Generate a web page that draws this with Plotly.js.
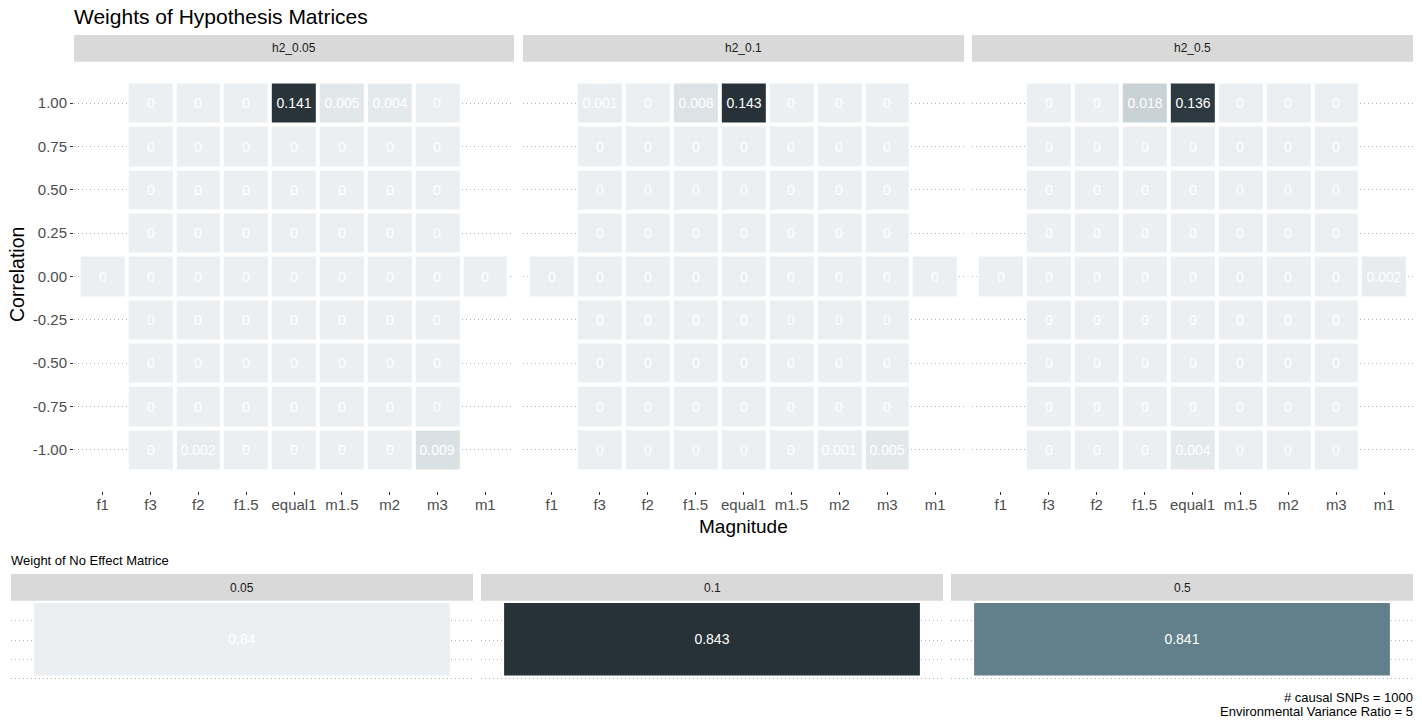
<!DOCTYPE html>
<html><head><meta charset="utf-8">
<script src="https://cdn.plot.ly/plotly-3.0.1.min.js"></script>
<style>html,body{margin:0;padding:0;background:#fff}#chart{width:1422px;height:726px}</style>
</head><body><div id="chart"></div>
<script>
// ---------- data ----------
const magnitudes = ["f1","f3","f2","f1.5","equal1","m1.5","m2","m3","m1"];
const correlations = [-1,-0.75,-0.5,-0.25,0,0.25,0.5,0.75,1];
const correlationLabels = ["-1.00","-0.75","-0.50","-0.25","0.00","0.25","0.50","0.75","1.00"];
const hypothesisPanels = ["h2_0.05","h2_0.1","h2_0.5"];
// rows: correlation -1 .. 1 ; columns: magnitudes ; null = no tile
const weightsH2_005 = [
  [null,0,0.002,0,0,0,0,0.009,null],
  [null,0,0,0,0,0,0,0,null],
  [null,0,0,0,0,0,0,0,null],
  [null,0,0,0,0,0,0,0,null],
  [0,0,0,0,0,0,0,0,0],
  [null,0,0,0,0,0,0,0,null],
  [null,0,0,0,0,0,0,0,null],
  [null,0,0,0,0,0,0,0,null],
  [null,0,0,0,0.141,0.005,0.004,0,null]
];
const weightsH2_01 = [
  [null,0,0,0,0,0,0.001,0.005,null],
  [null,0,0,0,0,0,0,0,null],
  [null,0,0,0,0,0,0,0,null],
  [null,0,0,0,0,0,0,0,null],
  [0,0,0,0,0,0,0,0,0],
  [null,0,0,0,0,0,0,0,null],
  [null,0,0,0,0,0,0,0,null],
  [null,0,0,0,0,0,0,0,null],
  [null,0.001,0,0.008,0.143,0,0,0,null]
];
const weightsH2_05 = [
  [null,0,0,0,0.004,0,0,0,null],
  [null,0,0,0,0,0,0,0,null],
  [null,0,0,0,0,0,0,0,null],
  [null,0,0,0,0,0,0,0,null],
  [0,0,0,0,0,0,0,0,0.002],
  [null,0,0,0,0,0,0,0,null],
  [null,0,0,0,0,0,0,0,null],
  [null,0,0,0,0,0,0,0,null],
  [null,0,0,0.018,0.136,0,0,0,null]
];
const noEffectPanels = ["0.05","0.1","0.5"];
const noEffectWeights = [0.84, 0.843, 0.84148];

// ---------- style ----------
const W = 1422, H = 726;
const FONT = "Liberation Sans, Arial, Helvetica, sans-serif";
const palette = [[0,"#ECEFF1"],[0.5,"#607D8B"],[1,"#263238"]];
const gridStyle = {showgrid:true, gridcolor:"#b0b0b0", gridwidth:1, griddash:"1px,3px"};
const px = p => p / W;
const py = p => 1 - p / H;
const fmt = v => String(Math.round(v * 1000) / 1000);

const weightSets = [weightsH2_005, weightsH2_01, weightsH2_05];
const topMax = Math.max(...weightSets.flat(2).filter(v => v !== null));
const topX = [[74,514],[523,964],[972,1413]];
const botX = [[11,473],[481,943],[951,1413]];

const traces = [];
const layout = {
  width: W, height: H, margin:{l:0,r:0,t:0,b:0},
  paper_bgcolor:"#fff", plot_bgcolor:"#fff",
  font:{family:FONT, color:"#000"},
  showlegend:false, shapes:[], annotations:[]
};

weightSets.forEach((w, i) => {
  const sfx = i === 0 ? "" : String(i + 1);
  const under = w.map(r => r.map(v => v === null ? null : 1));
  traces.push({type:"heatmap", x:magnitudes, y:correlations, z:under, xaxis:"x"+sfx, yaxis:"y"+sfx,
    colorscale:[[0,"#ffffff"],[1,"#ffffff"]], showscale:false, hoverinfo:"skip", connectgaps:false});
  traces.push({type:"heatmap", x:magnitudes, y:correlations, z:w, xaxis:"x"+sfx, yaxis:"y"+sfx,
    zmin:0, zmax:topMax, colorscale:palette, showscale:false, xgap:4, ygap:4, connectgaps:false,
    text:w.map(r => r.map(v => v === null ? "" : fmt(v))), texttemplate:"%{text}",
    textfont:{family:FONT, size:14, color:"#ffffff"}, hoverinfo:"x+y+z"});
  layout["xaxis"+sfx] = {domain:[px(topX[i][0]), px(topX[i][1])], type:"category",
    categoryorder:"array", categoryarray:magnitudes, range:[-0.6, 8.6],
    showgrid:false, zeroline:false, showline:false, ticks:"outside", ticklen:3, tickwidth:1,
    tickcolor:"#333333", ticklabelstandoff:-3,
    tickfont:{family:FONT, size:15, color:"#4d4d4d"}, fixedrange:true, anchor:"y"+sfx};
  layout["yaxis"+sfx] = Object.assign({domain:[py(491), py(62)], range:[-1.2375, 1.2375],
    tickvals:correlations, ticktext:correlationLabels, zeroline:false, showline:false,
    ticks: i === 0 ? "outside" : "", ticklen:3, tickwidth:1, tickcolor:"#333333",
    showticklabels: i === 0, tickfont:{family:FONT, size:15, color:"#4d4d4d"}, fixedrange:true,
    anchor:"x"+sfx}, gridStyle);
  layout.shapes.push({type:"rect", xref:"paper", yref:"paper", x0:px(topX[i][0]), x1:px(topX[i][1]),
    y0:py(61.7), y1:py(35), fillcolor:"#d9d9d9", line:{width:0}, layer:"below"});
  layout.annotations.push({xref:"paper", yref:"paper", x:px((topX[i][0]+topX[i][1])/2), y:py(48.5),
    text:hypothesisPanels[i], showarrow:false, xanchor:"center", yanchor:"middle",
    font:{family:FONT, size:12, color:"#1a1a1a"}});
});

const botMin = Math.min(...noEffectWeights), botMax = Math.max(...noEffectWeights);
noEffectWeights.forEach((v, i) => {
  const n = i + 4, sfx = String(n);
  traces.push({type:"bar", x:[noEffectPanels[i]], y:[3.79], base:[0.14], width:[0.9],
    xaxis:"x"+sfx, yaxis:"y"+sfx,
    marker:{color:[v], colorscale:palette, cmin:botMin, cmax:botMax, showscale:false, line:{width:0}},
    text:[fmt(v)], textposition:"inside", insidetextanchor:"middle", textangle:0, constraintext:"none",
    textfont:{family:FONT, size:14, color:"#ffffff"}, hoverinfo:"text"});
  layout["xaxis"+sfx] = {domain:[px(botX[i][0]), px(botX[i][1])], type:"category", range:[-0.5,0.5],
    showgrid:false, zeroline:false, showticklabels:false, ticks:"", fixedrange:true, anchor:"y"+sfx};
  layout["yaxis"+sfx] = Object.assign({domain:[py(680), py(601)], range:[-0.089, 4.037],
    tickvals:[0,1,2,3,4], showticklabels:false, ticks:"", zeroline:false, fixedrange:true,
    anchor:"x"+sfx}, gridStyle);
  layout.shapes.push({type:"rect", xref:"paper", yref:"paper", x0:px(botX[i][0]), x1:px(botX[i][1]),
    y0:py(600.7), y1:py(574), fillcolor:"#d9d9d9", line:{width:0}, layer:"below"});
  layout.annotations.push({xref:"paper", yref:"paper", x:px((botX[i][0]+botX[i][1])/2), y:py(588),
    text:noEffectPanels[i], showarrow:false, xanchor:"center", yanchor:"middle",
    font:{family:FONT, size:12, color:"#1a1a1a"}});
});

layout.annotations.push(
  {xref:"paper", yref:"paper", x:px(72), y:py(17), text:"Weights of Hypothesis Matrices", showarrow:false,
   xanchor:"left", yanchor:"middle", font:{family:FONT, size:21, color:"#000"}},
  {xref:"paper", yref:"paper", x:px(17), y:py(275), text:"Correlation", showarrow:false, textangle:-90,
   xanchor:"center", yanchor:"middle", font:{family:FONT, size:19.5, color:"#000"}},
  {xref:"paper", yref:"paper", x:px(743.5), y:py(526), text:"Magnitude", showarrow:false,
   xanchor:"center", yanchor:"middle", font:{family:FONT, size:19, color:"#000"}},
  {xref:"paper", yref:"paper", x:px(9), y:py(560), text:"Weight of No Effect Matrice", showarrow:false,
   xanchor:"left", yanchor:"middle", font:{family:FONT, size:13, color:"#000"}},
  {xref:"paper", yref:"paper", x:px(1415), y:py(697.5), text:"# causal SNPs = 1000", showarrow:false,
   xanchor:"right", yanchor:"middle", font:{family:FONT, size:13, color:"#000"}},
  {xref:"paper", yref:"paper", x:px(1415), y:py(711), text:"Environmental Variance Ratio = 5", showarrow:false,
   xanchor:"right", yanchor:"middle", font:{family:FONT, size:13, color:"#000"}}
);

Plotly.newPlot("chart", traces, layout, {displayModeBar:false, staticPlot:true});
</script></body></html>
